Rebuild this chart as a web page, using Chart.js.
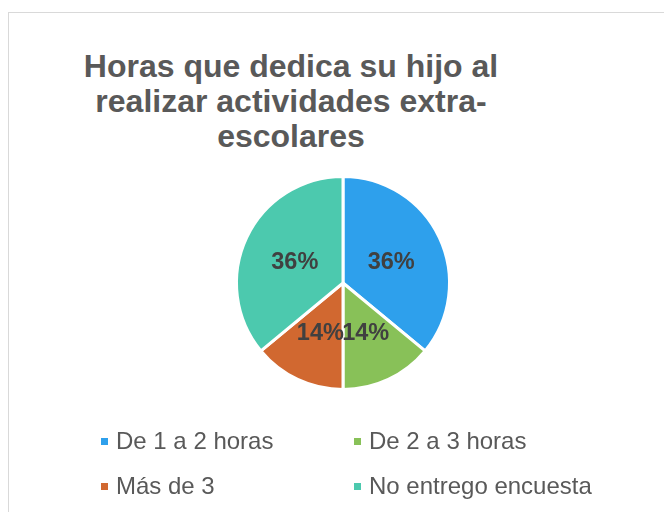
<!DOCTYPE html>
<html lang="es">
<head>
  <meta charset="UTF-8" />
  <title>Horas que dedica su hijo</title>
  <script src="https://cdn.jsdelivr.net/npm/chart.js"></script>
  <style>
    html, body { margin:0; padding:0; background:#fff; }
    body { width:664px; height:512px; position:relative; overflow:hidden; font-family:"Liberation Sans", Arial, sans-serif; }
    .frame { position:absolute; left:8px; top:12px; width:800px; height:600px; border:1px solid #d9d9d9; box-sizing:border-box; }
    #title { position:absolute; left:-9px; width:600px; top:49px; text-align:center; font-weight:bold; font-size:32px; line-height:35px; color:#595959; }
    #chart-wrap { position:absolute; left:0; top:0; width:664px; height:512px; }
    #legend { position:absolute; left:0; top:0; width:664px; height:512px; pointer-events:none; }
    .leg { position:absolute; font-size:24px; color:#595959; white-space:nowrap; line-height:28px; }
    .leg i { position:absolute; left:-15px; top:11px; width:7px; height:7px; }
  </style>
</head>
<body>
  <div class="frame"></div>
  <div id="title">Horas que dedica su hijo al<br>realizar actividades extra-<br>escolares</div>
  <div id="chart-wrap"><canvas id="pie" width="664" height="512"></canvas></div>
  <div id="legend"></div>

  <script>
    // data
    const categories = ['De 1 a 2 horas', 'De 2 a 3 horas', 'Más de 3', 'No entrego encuesta'];
    const percents = [36, 14, 14, 36];
    const colors = ['#2EA0EC', '#88C158', '#D16830', '#4CC9AE'];

    // where each legend entry sits (two columns)
    const legendPos = [[116, 427], [369, 427], [116, 472], [369, 472]];

    // draw the % label inside each slice
    const sliceLabels = {
      id: 'sliceLabels',
      afterDatasetsDraw(chart) {
        const ctx = chart.ctx;
        const meta = chart.getDatasetMeta(0);
        ctx.save();
        ctx.font = 'bold 23.5px "Liberation Sans", Arial, sans-serif';
        ctx.fillStyle = '#404040';
        ctx.textAlign = 'center';
        ctx.textBaseline = 'middle';
        meta.data.forEach((arc, i) => {
          const mid = (arc.startAngle + arc.endAngle) / 2;
          const r = arc.outerRadius * 0.5;
          const x = arc.x + Math.cos(mid) * r;
          const y = arc.y + Math.sin(mid) * r + 2;
          ctx.fillText(percents[i] + '%', x, y);
        });
        ctx.restore();
      }
    };

    new Chart(document.getElementById('pie'), {
      type: 'pie',
      data: {
        labels: categories,
        datasets: [{ data: percents, backgroundColor: colors, borderColor: '#fff', borderWidth: 3 }]
      },
      options: {
        responsive: false,
        animation: false,
        layout: { padding: { top: 175, bottom: 121, left: 235, right: 213 } },
        plugins: { legend: { display: false }, tooltip: { enabled: false } }
      },
      plugins: [sliceLabels]
    });

    document.getElementById('legend').innerHTML = categories.map((c, i) =>
      `<div class="leg" style="left:${legendPos[i][0]}px;top:${legendPos[i][1]}px"><i style="background:${colors[i]}"></i>${c}</div>`
    ).join('');
  </script>
</body>
</html>
